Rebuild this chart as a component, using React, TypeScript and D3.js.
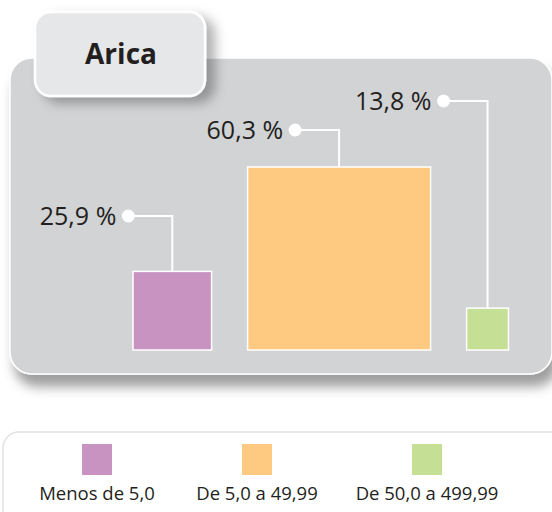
import { useEffect, useRef } from "react";
import * as d3 from "d3";

// data
const title = "Arica";
const categories = ["Menos de 5,0", "De 5,0 a 49,99", "De 50,0 a 499,99"];
const values = [25.9, 60.3, 13.8];
const colors = ["#c893c1", "#fec980", "#c5df94"];

// layout for the callouts (y of the dot), picked by eye
const calloutY = [216, 130, 101];
const legendCenters = [97, 257, 427];

const W = 552;
const H = 512;
const FONT = "'Open Sans', 'Noto Sans', sans-serif";

export default function App() {
  const svgRef = useRef<SVGSVGElement>(null);

  useEffect(() => {
    const svg = d3.select(svgRef.current);
    svg.selectAll("*").remove();

    const defs = svg.append("defs");
    const shadow = defs.append("filter").attr("id", "panelShadow")
      .attr("x", "-10%").attr("y", "-10%").attr("width", "130%").attr("height", "140%");
    shadow.append("feDropShadow").attr("dx", 5).attr("dy", 12)
      .attr("stdDeviation", 6).attr("flood-color", "#000").attr("flood-opacity", 0.38);

    const tabShadow = defs.append("filter").attr("id", "tabShadow")
      .attr("x", "-20%").attr("y", "-20%").attr("width", "150%").attr("height", "150%");
    tabShadow.append("feDropShadow").attr("dx", 9).attr("dy", 6)
      .attr("stdDeviation", 6).attr("flood-color", "#000").attr("flood-opacity", 0.3);

    svg.append("rect").attr("width", W).attr("height", H).attr("fill", "#fff");

    // grey panel
    svg.append("rect")
      .attr("x", 10).attr("y", 58).attr("width", 542).attr("height", 316)
      .attr("rx", 22)
      .attr("fill", "#d1d3d4")
      .attr("stroke", "#fff").attr("stroke-width", 1.5)
      .attr("filter", "url(#panelShadow)");

    // title tab
    svg.append("rect")
      .attr("x", 35).attr("y", 12).attr("width", 170).attr("height", 84)
      .attr("rx", 16)
      .attr("fill", "#e6e7e8")
      .attr("stroke", "#fff").attr("stroke-width", 2.5)
      .attr("filter", "url(#tabShadow)");
    svg.append("text")
      .attr("x", 121).attr("y", 64)
      .attr("text-anchor", "middle")
      .attr("font-family", FONT).attr("font-weight", 700).attr("font-size", 28)
      .attr("fill", "#231f20")
      .text(title);

    // squares: side length proportional to the value
    const side = d3.scaleLinear()
      .domain([0, d3.max(values) || 0])
      .range([0, 183]);
    const baseY = 350;
    const gap = 36;
    const startX = 133;
    const xs: number[] = [];
    values.reduce((acc, v) => {
      xs.push(acc);
      return acc + side(v) + gap;
    }, startX);

    const items = values.map((v, i) => ({
      v, i,
      x: xs[i],
      s: side(v),
      cy: calloutY[i],
    }));

    const g = svg.append("g");

    // connector lines
    g.selectAll(".conn")
      .data(items)
      .enter()
      .append("path")
      .attr("class", "conn")
      .attr("d", (d) => {
        const cx = d.x + d.s / 2;
        const dotX = cx - 44;
        return `M${dotX},${d.cy}H${cx}V${baseY - d.s}`;
      })
      .attr("fill", "none")
      .attr("stroke", "#fff").attr("stroke-width", 2);

    g.selectAll(".sq")
      .data(items)
      .enter()
      .append("rect")
      .attr("class", "sq")
      .attr("x", (d) => d.x)
      .attr("y", (d) => baseY - d.s)
      .attr("width", (d) => d.s)
      .attr("height", (d) => d.s)
      .attr("fill", (d) => colors[d.i])
      .attr("stroke", "#fff").attr("stroke-width", 1.5);

    g.selectAll(".dot")
      .data(items)
      .enter()
      .append("circle")
      .attr("cx", (d) => d.x + d.s / 2 - 44)
      .attr("cy", (d) => d.cy)
      .attr("r", 6.5)
      .attr("fill", "#fff");

    g.selectAll(".lbl")
      .data(items)
      .enter()
      .append("text")
      .attr("x", (d) => d.x + d.s / 2 - 56)
      .attr("y", (d) => d.cy + 9)
      .attr("text-anchor", "end")
      .attr("font-family", FONT).attr("font-size", 25)
      .attr("fill", "#231f20")
      .text((d) => `${d.v.toFixed(1).replace(".", ",")} %`);

    // legend
    svg.append("rect")
      .attr("x", 3).attr("y", 432).attr("width", 570).attr("height", 100)
      .attr("rx", 16)
      .attr("fill", "#fff")
      .attr("stroke", "#e1e2e3").attr("stroke-width", 1.5);

    const lx = d3.scaleOrdinal<string, number>().domain(categories).range(legendCenters);
    const leg = svg.append("g").selectAll("g")
      .data(categories)
      .enter()
      .append("g")
      .attr("transform", (d) => `translate(${lx(d)},0)`);
    leg.append("rect")
      .attr("x", -15).attr("y", 444).attr("width", 30).attr("height", 31)
      .attr("fill", (_d, i) => colors[i]);
    leg.append("text")
      .attr("y", 500)
      .attr("text-anchor", "middle")
      .attr("font-family", FONT).attr("font-size", 18.5)
      .attr("fill", "#231f20")
      .text((d) => d);
  }, []);

  return (
    <div style={{ position: "absolute", left: 0, top: 0 }}>
      <svg ref={svgRef} width={W} height={H} style={{ display: "block" }} />
    </div>
  );
}
